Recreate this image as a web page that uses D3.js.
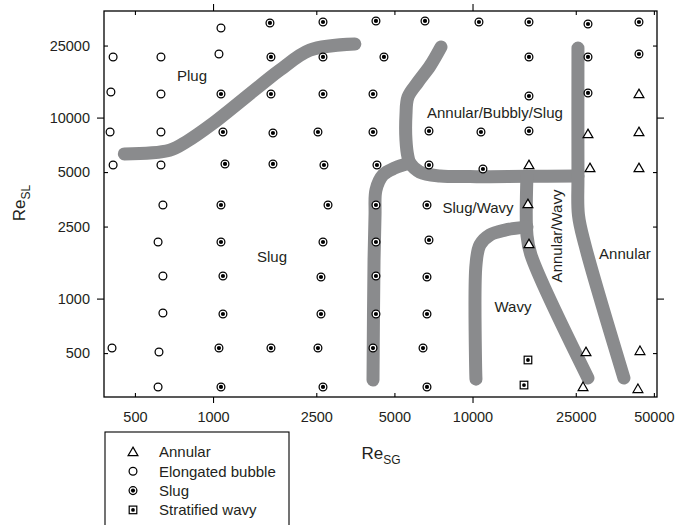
<!DOCTYPE html>
<html>
<head>
<meta charset="utf-8">
<script src="https://d3js.org/d3.v7.min.js"></script>
<style>
  body { margin: 0; background: #fff; }
  svg text { font-family: "Liberation Sans", Arial, Helvetica, sans-serif; fill: #231f20; }
</style>
</head>
<body>
<svg id="chart" width="685" height="525"></svg>
<script>
// tick values
var xTicks = [500, 1000, 2500, 5000, 10000, 25000, 50000];
var yTicks = [500, 1000, 2500, 5000, 10000, 25000];

// measured points [Re_SG, Re_SL]
var elongated = [
  [412, 21620], [630, 21620], [1073, 31260], [1054, 22460], [404, 13850], [630, 13500],
  [401, 8325], [630, 8325], [412, 5472], [630, 5472], [641, 3290], [614, 2054],
  [641, 1333], [641, 833], [408, 533], [619, 507], [614, 325]
];
var slug = [
  [1073, 13500], [1092, 8325], [1112, 5543], [1073, 3290], [1073, 2054], [1092, 1333],
  [1092, 822], [1054, 533], [1073, 325],
  [1657, 33320], [1672, 21620], [1672, 13500], [1702, 8219], [1702, 5543], [1672, 533],
  [2653, 33740], [2653, 21620], [2653, 13500], [2537, 8325], [2676, 5472], [2774, 3290],
  [2653, 2054], [2606, 1316], [2606, 822], [2537, 533], [2653, 325],
  [4245, 34180], [4557, 21620], [4135, 13500], [4135, 8325], [4283, 5472], [4245, 3290],
  [4245, 2054], [4245, 1333], [4245, 822], [4135, 533],
  [6559, 34180], [6795, 8431], [6795, 5472], [6676, 3290], [6795, 2107], [6676, 1316],
  [6676, 822], [6445, 533], [6676, 325],
  [10588, 33740], [10779, 8325], [10970, 5200],
  [16503, 33740], [16503, 21620], [16503, 13160], [16503, 8431],
  [27862, 32890], [27862, 21620], [27862, 13680],
  [43800, 33740], [43800, 22460]
];
var annular = [
  [43800, 13500], [27862, 8117], [43800, 8325], [16503, 5472], [28360, 5268], [43800, 5268],
  [16350, 3330], [16503, 2002], [27371, 507], [44200, 514], [26657, 325], [43400, 317]
];
var stratified = [[16355, 458], [15790, 333]];

// transition boundaries (thick grey bands)
var plugSlug = [[455, 6300], [680, 6600], [795, 7400], [1000, 9300], [1160, 11000],
  [1560, 15500], [1810, 18300], [2360, 23600], [3520, 25500]];
var bubblyTop = [[7560, 24550], [6860, 19300], [6160, 15700], [5640, 13000], [5540, 10340],
  [5540, 7520], [5640, 6060], [5740, 5610], [6270, 5000], [7490, 4760], [9780, 4720],
  [16210, 4740], [25490, 4760]];
var slugLeft = [[5740, 5610], [5025, 5270], [4520, 4820], [4245, 3980], [4210, 2900],
  [4173, 1634], [4135, 355]];
var annularRight = [[25490, 24240], [25490, 4760], [25600, 2900], [27130, 1977],
  [38340, 364]];
var annularWavy = [[16210, 4740], [16210, 2250], [16800, 1741], [27860, 364]];
var wavyLeft = [[16210, 2490], [13340, 2390], [11680, 2250], [10680, 1980],
  [10310, 1530], [10310, 359]];
var boundaries = [plugSlug, bubblyTop, slugLeft, annularRight, annularWavy, wavyLeft];

// regime names and where they sit [Re_SG, Re_SL]
var regionNames = ["Plug", "Annular/Bubbly/Slug", "Slug/Wavy", "Slug", "Wavy", "Annular", "Annular/Wavy"];
var regionAt = [[830, 16980], [12200, 10600], [10500, 3167], [1687, 1697], [14320, 899], [38680, 1763], [21160, 2218]];

var legendNames = ["Annular", "Elongated bubble", "Slug", "Stratified wavy"];

var svg = d3.select('#chart');
var x = d3.scaleLog().domain([380, 51400]).range([104, 657]);
var y = d3.scaleLog().domain([286, 38800]).range([397, 11]);
function major(d) { return d === 1000 || d === 10000; }

// bands
var line = d3.line()
    .x(function(d) { return x(d[0]); })
    .y(function(d) { return y(d[1]); })
    .curve(d3.curveCatmullRom.alpha(0.5));

svg.append('g').selectAll('path').data(boundaries).join('path')
    .attr('d', line)
    .attr('fill', 'none')
    .attr('stroke', '#8a8b8d')
    .attr('stroke-width', 13)
    .attr('stroke-linecap', 'round')
    .attr('stroke-linejoin', 'round');

// axes
function styleAxis(g) {
  g.attr('font-size', 14.5).attr('font-family', '"Liberation Sans", Arial, sans-serif');
  g.select('.domain').remove();
  g.selectAll('.tick line').attr('stroke', '#000').attr('stroke-width', 1.1);
}

var gB = svg.append('g').attr('transform', 'translate(0,397)')
    .call(d3.axisBottom(x).tickValues(xTicks).tickFormat(d3.format('d')).tickSize(0).tickPadding(15));
styleAxis(gB);
gB.selectAll('.tick line').attr('y2', function(d) { return major(d) ? 6 : -4; });

var gT = svg.append('g').attr('transform', 'translate(0,11)')
    .call(d3.axisTop(x).tickValues(xTicks).tickFormat('').tickSize(0));
styleAxis(gT);
gT.selectAll('.tick line').attr('y2', function(d) { return major(d) ? -7 : 4; });

var gL = svg.append('g').attr('transform', 'translate(104,0)')
    .call(d3.axisLeft(y).tickValues(yTicks).tickFormat(d3.format('d')).tickSize(0).tickPadding(14));
styleAxis(gL);
gL.selectAll('.tick line').attr('x2', function(d) { return major(d) ? -7 : 4; });

var gR = svg.append('g').attr('transform', 'translate(657,0)')
    .call(d3.axisRight(y).tickValues(yTicks).tickFormat('').tickSize(0));
styleAxis(gR);
gR.selectAll('.tick line').attr('x2', function(d) { return major(d) ? 7 : -4; });

svg.append('rect')
    .attr('x', 104).attr('y', 11).attr('width', 553).attr('height', 386)
    .attr('fill', 'none').attr('stroke', '#000').attr('stroke-width', 1.3);

// markers
function drawMark(g, kind) {
  if (kind === 'annular') {
    g.append('path').attr('d', d3.symbol(d3.symbolTriangle, 42)())
      .attr('transform', 'translate(0,0.8)')
      .attr('fill', '#fff').attr('stroke', '#000').attr('stroke-width', 1.2);
  } else if (kind === 'stratified') {
    g.append('rect').attr('x', -3.8).attr('y', -3.8).attr('width', 7.6).attr('height', 7.6)
      .attr('fill', '#fff').attr('stroke', '#000').attr('stroke-width', 1.2);
    g.append('circle').attr('r', 1.9).attr('fill', '#000');
  } else {
    g.append('circle').attr('r', 3.9)
      .attr('fill', '#fff').attr('stroke', '#000').attr('stroke-width', 1.25);
    if (kind === 'slug') g.append('circle').attr('r', 2.1).attr('fill', '#000');
  }
}

var sets = [['elongated', elongated], ['slug', slug], ['annular', annular], ['stratified', stratified]];
sets.forEach(function(s) {
  svg.append('g').selectAll('g').data(s[1]).join('g')
    .attr('transform', function(d) { return 'translate(' + x(d[0]) + ',' + y(d[1]) + ')'; })
    .each(function() { drawMark(d3.select(this), s[0]); });
});

// regime labels
svg.append('g').selectAll('text').data(regionNames).join('text')
    .attr('font-size', 15)
    .attr('text-anchor', 'middle')
    .attr('dy', '0.35em')
    .attr('transform', function(d, i) {
      var p = regionAt[i];
      return 'translate(' + x(p[0]) + ',' + y(p[1]) + ')' + (d === 'Annular/Wavy' ? ' rotate(-90)' : '');
    })
    .text(function(d) { return d; });

// axis titles
var xt = svg.append('text').attr('x', 381).attr('y', 459).attr('text-anchor', 'middle').attr('font-size', 17);
xt.append('tspan').text('Re');
xt.append('tspan').attr('font-size', 12).attr('dy', 5).text('SG');

var yt = svg.append('text').attr('transform', 'translate(25,203) rotate(-90)')
    .attr('text-anchor', 'middle').attr('font-size', 17);
yt.append('tspan').text('Re');
yt.append('tspan').attr('font-size', 12).attr('dy', 5).text('SL');

// legend
var lg = svg.append('g');
lg.append('rect').attr('x', 105).attr('y', 432).attr('width', 184).attr('height', 120)
    .attr('fill', 'none').attr('stroke', '#000').attr('stroke-width', 1.1);
var kinds = ['annular', 'elongated', 'slug', 'stratified'];
var items = lg.selectAll('g.item').data(legendNames).join('g')
    .attr('class', 'item')
    .attr('transform', function(d, i) { return 'translate(133,' + (452 + i * 19.3) + ')'; });
items.each(function(d, i) { drawMark(d3.select(this), kinds[i]); });
items.append('text').attr('x', 26).attr('dy', '0.35em').attr('font-size', 15).text(function(d) { return d; });
</script>
</body>
</html>
